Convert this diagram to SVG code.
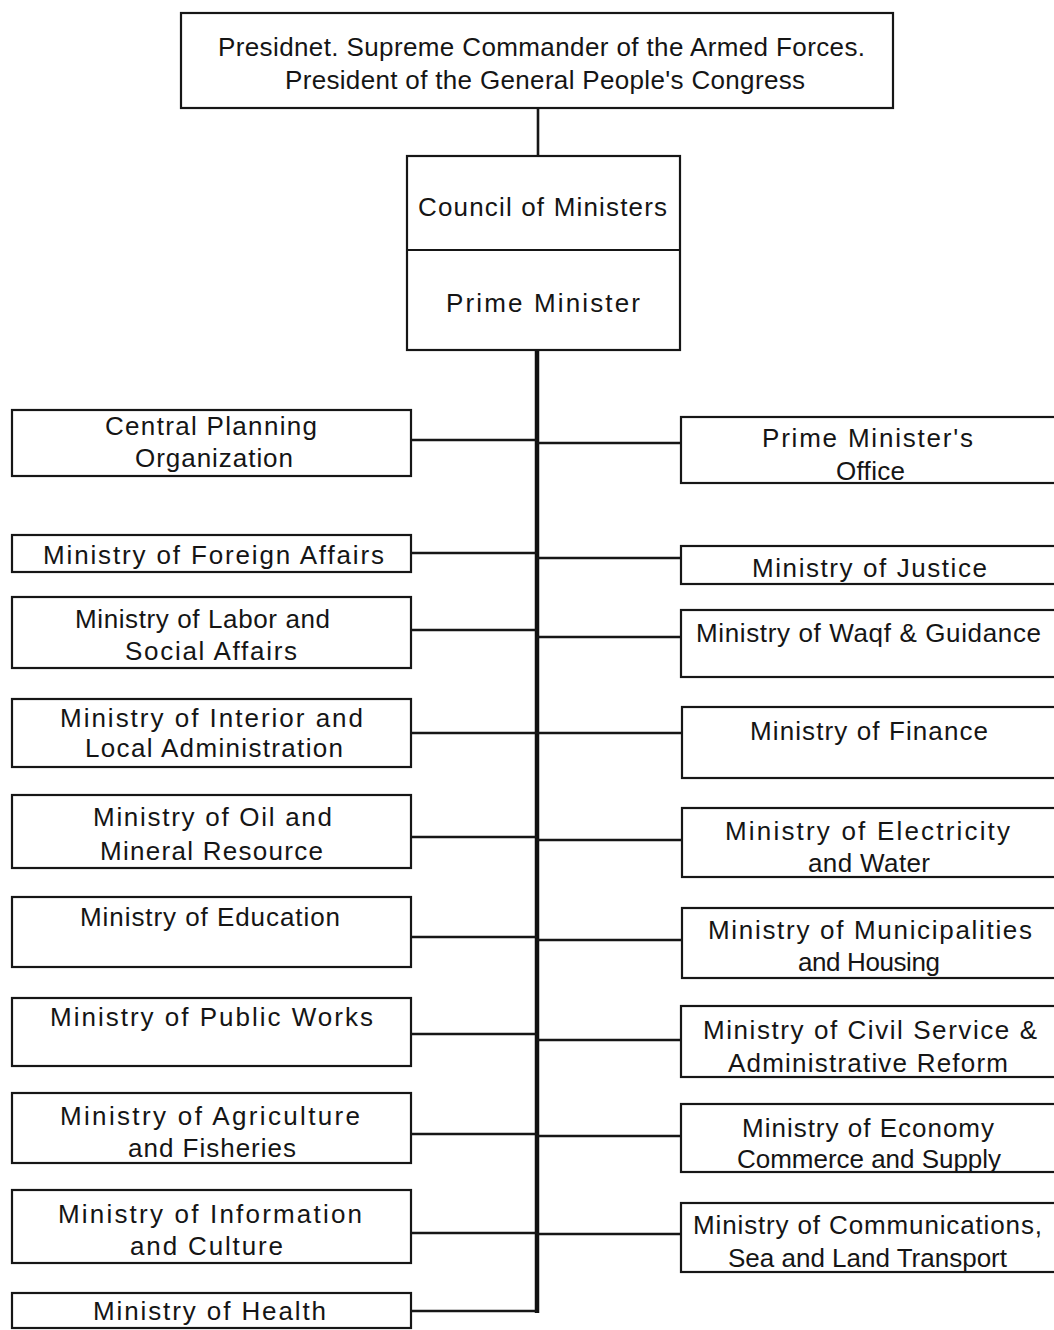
<svg xmlns="http://www.w3.org/2000/svg" width="1054" height="1330" viewBox="0 0 1054 1330">
<style>
.bg{fill:#ffffff}
.box{fill:none;stroke:#161616;stroke-width:2.2}
.lnk{fill:none;stroke:#161616;stroke-width:2.6}
.trunk{fill:none;stroke:#111;stroke-width:4.5}
.t{font-family:"Liberation Sans",Arial,sans-serif;font-size:26px;fill:#151515}
</style>
<rect class="bg" x="0" y="0" width="1054" height="1330"/>
<g id="connectors">
<line class="lnk" x1="538" y1="108" x2="538" y2="156"/>
<line class="trunk" x1="537" y1="350" x2="537" y2="1313"/>
<line class="lnk" x1="411" y1="440" x2="537" y2="440"/>
<line class="lnk" x1="411" y1="553" x2="537" y2="553"/>
<line class="lnk" x1="411" y1="630" x2="537" y2="630"/>
<line class="lnk" x1="411" y1="733" x2="537" y2="733"/>
<line class="lnk" x1="411" y1="837" x2="537" y2="837"/>
<line class="lnk" x1="411" y1="937" x2="537" y2="937"/>
<line class="lnk" x1="411" y1="1034" x2="537" y2="1034"/>
<line class="lnk" x1="411" y1="1134" x2="537" y2="1134"/>
<line class="lnk" x1="411" y1="1233" x2="537" y2="1233"/>
<line class="lnk" x1="411" y1="1311" x2="537" y2="1311"/>
<line class="lnk" x1="537" y1="443" x2="681" y2="443"/>
<line class="lnk" x1="537" y1="558" x2="681" y2="558"/>
<line class="lnk" x1="537" y1="637" x2="681" y2="637"/>
<line class="lnk" x1="537" y1="733" x2="682" y2="733"/>
<line class="lnk" x1="537" y1="840" x2="682" y2="840"/>
<line class="lnk" x1="537" y1="940" x2="682" y2="940"/>
<line class="lnk" x1="537" y1="1040" x2="681" y2="1040"/>
<line class="lnk" x1="537" y1="1136" x2="681" y2="1136"/>
<line class="lnk" x1="537" y1="1234" x2="681" y2="1234"/>
</g>
<g id="president">
<rect class="box" x="181" y="13" width="712" height="95"/>
<text class="t" x="218" y="56" textLength="647">Presidnet. Supreme Commander of the Armed Forces.</text>
<text class="t" x="285" y="89" textLength="520">President of the General People's Congress</text>
</g>
<g id="council">
<rect class="box" x="407" y="156" width="273" height="194"/>
<line class="box" x1="407" y1="250" x2="680" y2="250"/>
<text class="t" x="418" y="216" textLength="249">Council of Ministers</text>
<text class="t" x="446" y="312" textLength="194">Prime  Minister</text>
</g>
<g id="central-planning">
<rect class="box" x="12" y="410" width="399" height="66"/>
<text class="t" x="105" y="435" textLength="212">Central Planning</text>
<text class="t" x="135" y="467" textLength="158">Organization</text>
</g>
<g id="foreign-affairs">
<rect class="box" x="12" y="535" width="399" height="37"/>
<text class="t" x="43" y="564" textLength="341">Ministry of Foreign Affairs</text>
</g>
<g id="labor">
<rect class="box" x="12" y="597" width="399" height="71"/>
<text class="t" x="75" y="628" textLength="255">Ministry of Labor and</text>
<text class="t" x="125" y="660" textLength="172">Social Affairs</text>
</g>
<g id="interior">
<rect class="box" x="12" y="699" width="399" height="68"/>
<text class="t" x="60" y="727" textLength="303">Ministry of Interior and</text>
<text class="t" x="85" y="757" textLength="258">Local Administration</text>
</g>
<g id="oil">
<rect class="box" x="12" y="795" width="399" height="73"/>
<text class="t" x="93" y="826" textLength="239">Ministry of Oil and</text>
<text class="t" x="100" y="860" textLength="223">Mineral Resource</text>
</g>
<g id="education">
<rect class="box" x="12" y="897" width="399" height="70"/>
<text class="t" x="80" y="926" textLength="260">Ministry of Education</text>
</g>
<g id="public-works">
<rect class="box" x="12" y="998" width="399" height="68"/>
<text class="t" x="50" y="1026" textLength="323">Ministry of Public Works</text>
</g>
<g id="agriculture">
<rect class="box" x="12" y="1093" width="399" height="70"/>
<text class="t" x="60" y="1125" textLength="300">Ministry of Agriculture</text>
<text class="t" x="128" y="1157" textLength="168">and Fisheries</text>
</g>
<g id="information">
<rect class="box" x="12" y="1190" width="399" height="73"/>
<text class="t" x="58" y="1223" textLength="304">Ministry of Information</text>
<text class="t" x="130" y="1255" textLength="153">and Culture</text>
</g>
<g id="health">
<rect class="box" x="12" y="1293" width="399" height="35"/>
<text class="t" x="93" y="1320" textLength="233">Ministry of Health</text>
</g>
<g id="pm-office">
<rect class="box" x="681" y="417" width="380" height="66"/>
<text class="t" x="762" y="447" textLength="211">Prime  Minister's</text>
<text class="t" x="836" y="480" textLength="69">Office</text>
</g>
<g id="justice">
<rect class="box" x="681" y="546" width="380" height="38"/>
<text class="t" x="752" y="577" textLength="235">Ministry of Justice</text>
</g>
<g id="waqf">
<rect class="box" x="681" y="610" width="380" height="67"/>
<text class="t" x="696" y="642" textLength="345">Ministry of Waqf &amp; Guidance</text>
</g>
<g id="finance">
<rect class="box" x="682" y="707" width="380" height="71"/>
<text class="t" x="750" y="740" textLength="238">Ministry of Finance</text>
</g>
<g id="electricity">
<rect class="box" x="682" y="808" width="380" height="69"/>
<text class="t" x="725" y="840" textLength="285">Ministry   of Electricity</text>
<text class="t" x="808" y="872" textLength="122">and Water</text>
</g>
<g id="municipalities">
<rect class="box" x="682" y="908" width="380" height="70"/>
<text class="t" x="708" y="939" textLength="324">Ministry of Municipalities</text>
<text class="t" x="798" y="971" textLength="142">and Housing</text>
</g>
<g id="civil-service">
<rect class="box" x="681" y="1006" width="380" height="71"/>
<text class="t" x="703" y="1039" textLength="334">Ministry of Civil Service &amp;</text>
<text class="t" x="728" y="1072" textLength="280">Administrative Reform</text>
</g>
<g id="economy">
<rect class="box" x="681" y="1104" width="380" height="68"/>
<text class="t" x="742" y="1137" textLength="252">Ministry of Economy</text>
<text class="t" x="737" y="1168" textLength="264">Commerce and Supply</text>
</g>
<g id="communications">
<rect class="box" x="681" y="1203" width="380" height="69"/>
<text class="t" x="693" y="1234" textLength="349">Ministry of Communications,</text>
<text class="t" x="728" y="1267" textLength="279">Sea and Land Transport</text>
</g>
</svg>
